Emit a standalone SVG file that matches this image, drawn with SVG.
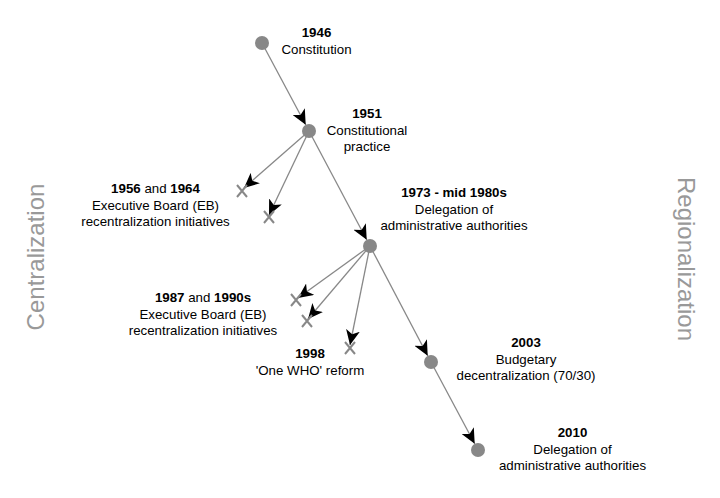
<svg xmlns="http://www.w3.org/2000/svg" width="720" height="498" viewBox="0 0 720 498">
<style>
.t{font-family:"Liberation Sans",Arial,sans-serif;font-size:13.3px;fill:#000;text-anchor:middle}
.b{font-weight:bold}
.n{fill:#888}
.x{stroke:#888;stroke-width:2;fill:none}
.e{stroke:#888;stroke-width:1.3;fill:none;marker-end:url(#ah)}
.side{font-family:"Liberation Sans",Arial,sans-serif;font-size:24px;fill:#999;text-anchor:middle}
</style>
<defs>
<marker id="ah" markerUnits="userSpaceOnUse" markerWidth="16" markerHeight="14" refX="15" refY="7" orient="auto" viewBox="0 0 16 14">
<path d="M0,0 L15,7 L0,14 L4,7 z" fill="#000"/>
</marker>
</defs>
<rect width="720" height="498" fill="#fff"/>
<g id="connectors">
<line class="e" x1="262" y1="43" x2="305.7" y2="124.8"/>
<line class="e" x1="309" y1="131" x2="366.7" y2="239.8"/>
<line class="e" x1="370" y1="246" x2="427.7" y2="355.8"/>
<line class="e" x1="431" y1="362" x2="474.7" y2="443.8"/>
<line class="e" x1="309" y1="131" x2="244" y2="188"/>
<line class="e" x1="309" y1="131" x2="269" y2="215"/>
<line class="e" x1="370" y1="246" x2="298" y2="298"/>
<line class="e" x1="370" y1="246" x2="308" y2="319"/>
<line class="e" x1="370" y1="246" x2="350" y2="345"/>
</g>
<g id="n1946"><circle class="n" cx="262" cy="43" r="7"/>
<text class="t b" x="316.5" y="37">1946</text><text class="t" x="316.5" y="53.5">Constitution</text></g>
<g id="n1951"><circle class="n" cx="309" cy="131" r="7"/>
<text class="t b" x="367" y="118">1951</text><text class="t" x="367" y="134.5">Constitutional</text><text class="t" x="367" y="151">practice</text></g>
<g id="n1956"><path class="x" d="M237,185 L247,197 M247,185 L237,197"/><path class="x" d="M264,211 L274,223 M274,211 L264,223"/>
<text class="t" x="155.5" y="193"><tspan class="b">1956</tspan> and <tspan class="b">1964</tspan></text><text class="t" x="155.5" y="209.5">Executive Board (EB)</text><text class="t" x="155.5" y="226">recentralization initiatives</text></g>
<g id="n1973"><circle class="n" cx="370" cy="246" r="7"/>
<text class="t b" x="454" y="197">1973 - mid 1980s</text><text class="t" x="454" y="213.5">Delegation of</text><text class="t" x="454" y="230">administrative authorities</text></g>
<g id="n1987"><path class="x" d="M291,294 L301,306 M301,294 L291,306"/><path class="x" d="M302,315 L312,327 M312,315 L302,327"/>
<text class="t" x="203" y="302"><tspan class="b">1987</tspan> and <tspan class="b">1990s</tspan></text><text class="t" x="203" y="318.5">Executive Board (EB)</text><text class="t" x="203" y="335">recentralization initiatives</text></g>
<g id="n1998"><path class="x" d="M345,342 L355,354 M355,342 L345,354"/>
<text class="t b" x="310" y="358">1998</text><text class="t" x="310" y="374.5">'One WHO' reform</text></g>
<g id="n2003"><circle class="n" cx="431" cy="362" r="7"/>
<text class="t b" x="526" y="347">2003</text><text class="t" x="526" y="363.5">Budgetary</text><text class="t" x="526" y="380">decentralization (70/30)</text></g>
<g id="n2010"><circle class="n" cx="478" cy="450" r="7"/>
<text class="t b" x="572.5" y="437">2010</text><text class="t" x="572.5" y="453.5">Delegation of</text><text class="t" x="572.5" y="470">administrative authorities</text></g>
<text class="side" transform="translate(44,257) rotate(-90)">Centralization</text>
<text class="side" transform="translate(678,259) rotate(90)">Regionalization</text>
</svg>
